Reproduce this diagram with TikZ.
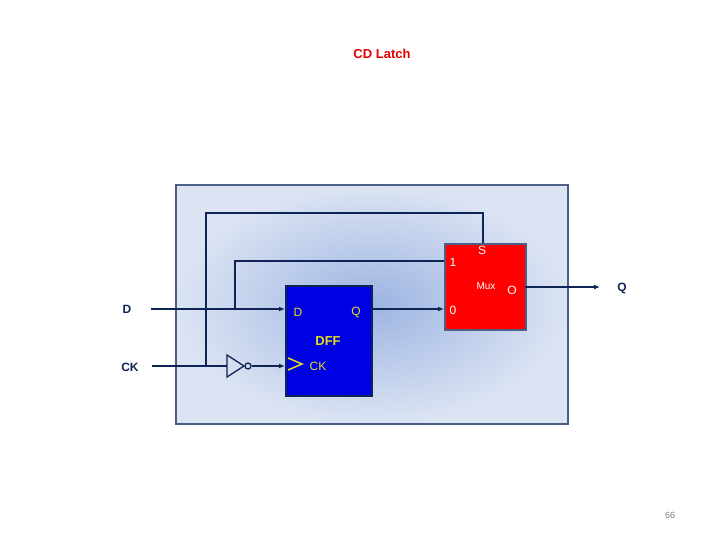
\documentclass[tikz,border=0pt]{standalone}
\usepackage{fontspec}
\setmainfont{Liberation Sans}
\usetikzlibrary{arrows.meta,shapes.gates.logic.US}
\definecolor{wire}{HTML}{0E2356}
\definecolor{inner}{HTML}{9DB4E2}
\definecolor{outer}{HTML}{DCE4F3}
\definecolor{frame}{HTML}{4C6086}
\begin{document}
\begin{tikzpicture}[x=1pt,y=-1pt,
  w/.style={draw=wire,line width=1.6pt},
  arr/.style={w,-{Latex[length=6pt,width=5pt]}},
  lbl/.style={font=\bfseries\fontsize{12}{12}\selectfont,text=wire},
  dl/.style={font=\fontsize{12}{12}\selectfont,text=yellow!90!black},
  ml/.style={font=\fontsize{12}{12}\selectfont,text=white}]
\useasboundingbox (0,0) rectangle (720,540);
\node[font=\fontsize{13}{13}\selectfont\bfseries,text=red!90!black] (title) at (382,54) {CD Latch};
\node[rectangle,draw=frame,line width=2pt,inner color=inner,outer color=outer,minimum width=392pt,minimum height=239pt,anchor=north west] (bg) at (175,184) {};
\node[rectangle,fill=blue!90!black,draw=wire,line width=1.5pt,minimum width=86pt,minimum height=110pt,anchor=north west] (dff) at (285,285) {};
\node[rectangle,fill=red,draw=frame,line width=2pt,minimum width=81pt,minimum height=86pt,anchor=north west] (mux) at (444,243) {};
\node[dl] (dD) at (298,312) {D};
\node[dl] (dQ) at (356,312) {Q};
\node[dl,font=\bfseries\fontsize{13}{13}\selectfont] (dname) at (328,341) {DFF};
\node[dl] (dCK) at (318,366) {CK};
\draw[yellow!90!black,line width=1.5pt] (288,358) -- (302,364) -- (288,370);
\node[ml] (m1) at (453,262) {1};
\node[ml] (m0) at (453,310) {0};
\node[ml] (mS) at (482,250) {S};
\node[ml,font=\fontsize{10}{10}\selectfont] (mM) at (486,286) {Mux};
\node[ml] (mO) at (512,290) {O};
\node[lbl] (D) at (127,309) {D};
\node[lbl] (CK) at (130,367) {CK};
\node[lbl] (Q) at (622,288) {Q};
\coordinate (dstart) at (151,309);
\coordinate (ckstart) at (152,366);
\coordinate (j1) at (235,309);
\coordinate (j2) at (206,366);
\coordinate (out) at (600,287);
% inverter
\coordinate (ia) at (227,355);
\coordinate (ib) at (227,377);
\coordinate (ic) at (244,366);
\node[circle,draw=wire,line width=1.3pt,fill=none,inner sep=0pt,minimum size=6pt] (bub) at (248,366) {};
\draw[draw=wire,line width=1.3pt] (ia) -- (ib) -- (ic) -- cycle;
\draw[w] (ckstart) -- (ia |- ic);
\draw[arr] (bub.east) -- (285,366);
\draw[arr] (dstart) -- (285,309);
\draw[arr] (371,309) -- (444,309);
\draw[w] (j1) -- (235,261) -- (444,261);
\draw[w] (j2) -- (206,213) -- (483,213) -- (483,243);
\draw[arr] (525,287) -- (out);
\node[font=\fontsize{9}{9}\selectfont,text=gray] (pg) at (670,515) {66};
\end{tikzpicture}
\end{document}
